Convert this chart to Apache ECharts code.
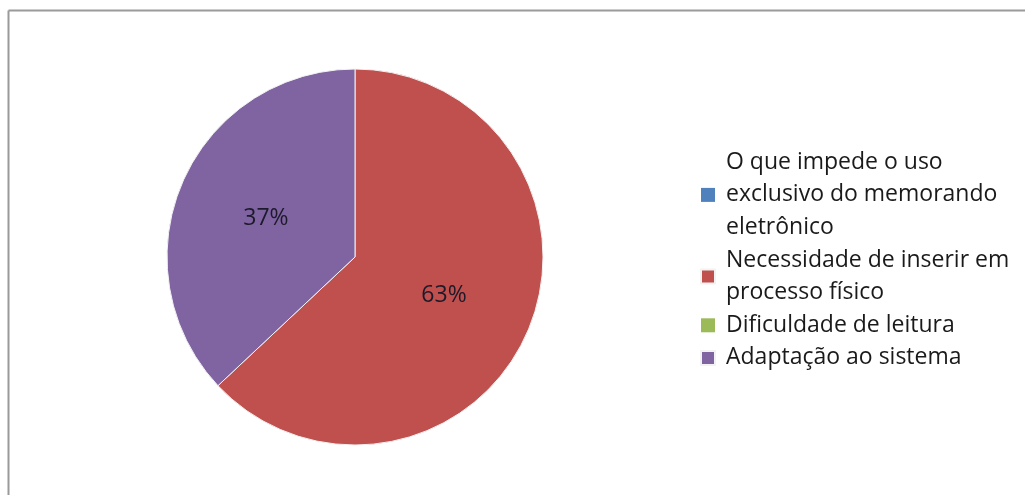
<!DOCTYPE html>
<html>
<head>
<meta charset="utf-8">
<script src="https://cdn.jsdelivr.net/npm/echarts@6/dist/echarts.min.js"></script>
<style>
html,body{margin:0;padding:0;background:#fff;}
#chart{width:1025px;height:495px;}
</style>
</head>
<body>
<div id="chart"></div>
<script>
const categories = [
  'O que impede o uso\nexclusivo do memorando\neletrônico',
  'Necessidade de inserir em\nprocesso físico',
  'Dificuldade de leitura',
  'Adaptação ao sistema'
];
const values = [0, 63, 0, 37];
const colors = ['#4F81BD', '#C0504D', '#9BBB59', '#8064A2'];

const chart = echarts.init(document.getElementById('chart'));
chart.setOption({
  animation: false,
  graphic: [
    {type: 'line', shape: {x1: 8.5, y1: 10.5, x2: 1025, y2: 10.5}, style: {stroke: '#9a9a9a', lineWidth: 2}},
    {type: 'line', shape: {x1: 8.5, y1: 10.5, x2: 8.5, y2: 495}, style: {stroke: '#9a9a9a', lineWidth: 2}}
  ],
  legend: {
    orient: 'vertical',
    left: 695,
    top: 141,
    itemWidth: 14,
    itemHeight: 14,
    itemGap: 0,
    icon: 'rect',
    textStyle: {fontFamily: 'Open Sans', fontSize: 23, color: '#1a1a1a', lineHeight: 32.6, padding: [0,0,0,6]},
    data: categories
  },
  series: [{
    type: 'pie',
    center: [355, 257],
    radius: 188,
    startAngle: 90,
    clockwise: true,
    stillShowZeroSum: false,
    label: {
      position: 'inside',
      fontFamily: 'Open Sans',
      fontSize: 23,
      color: '#1c1a2a',
      formatter: p => p.value ? p.value + '%' : ''
    },
    labelLine: {show: false},
    emphasis: {disabled: true},
    data: categories.map((c, i) => ({
      name: c,
      value: values[i],
      itemStyle: {color: colors[i], borderColor: '#f2f2f2', borderWidth: values[i] ? 1 : 0}
    }))
  }]
});
</script>
</body>
</html>
